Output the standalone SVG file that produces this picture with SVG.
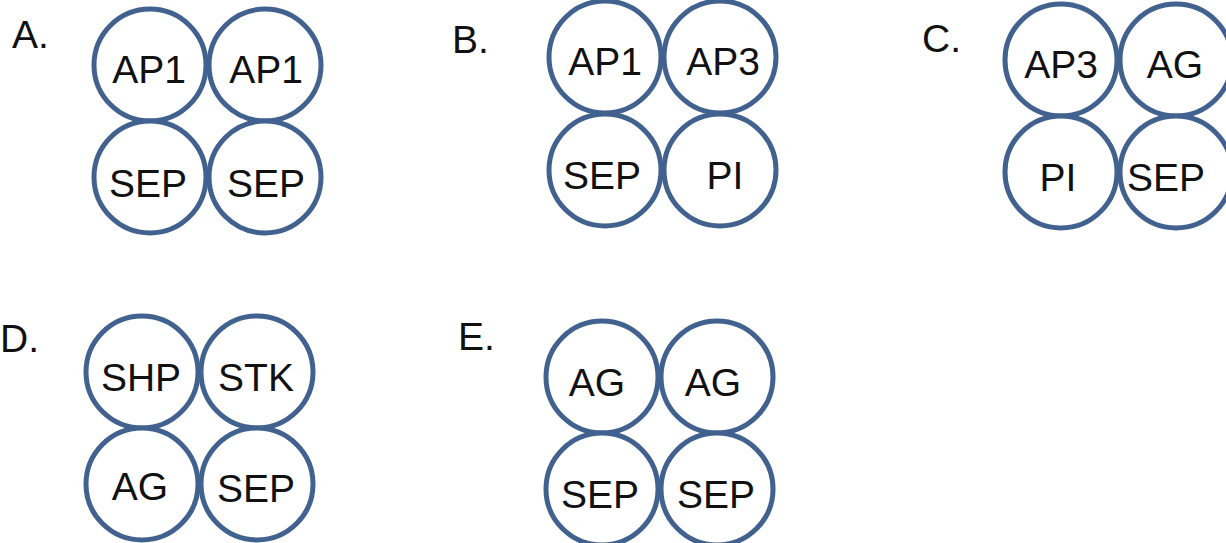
<svg xmlns="http://www.w3.org/2000/svg" width="1226" height="543" viewBox="0 0 1226 543">
<style>
.c{fill:#fff;stroke:#41618f;stroke-width:5}
.t{font-family:"Liberation Sans",Arial,sans-serif;font-size:39px;fill:#111;text-anchor:middle}
.l{font-family:"Liberation Sans",Arial,sans-serif;font-size:39px;fill:#111}
</style>
<rect width="1226" height="543" fill="#fff"/>
<g id="groupA">
<text class="l" x="12" y="48">A.</text>
<circle class="c" cx="150" cy="65" r="56"/><text class="t" x="149" y="83">AP1</text>
<circle class="c" cx="265" cy="65" r="56"/><text class="t" x="266" y="83">AP1</text>
<circle class="c" cx="150" cy="177" r="56"/><text class="t" x="148" y="197">SEP</text>
<circle class="c" cx="265" cy="177" r="56"/><text class="t" x="266" y="197">SEP</text>
</g>
<g id="groupB">
<text class="l" x="452" y="53">B.</text>
<circle class="c" cx="605" cy="57" r="56"/><text class="t" x="605" y="75">AP1</text>
<circle class="c" cx="720" cy="57" r="56"/><text class="t" x="723" y="75">AP3</text>
<circle class="c" cx="605" cy="170" r="56"/><text class="t" x="602" y="189">SEP</text>
<circle class="c" cx="720" cy="170" r="56"/><text class="t" x="725" y="189">PI</text>
</g>
<g id="groupC">
<text class="l" x="922" y="52">C.</text>
<circle class="c" cx="1061" cy="60" r="56"/><text class="t" x="1061" y="78">AP3</text>
<circle class="c" cx="1176" cy="60" r="56"/><text class="t" x="1175" y="78">AG</text>
<circle class="c" cx="1061" cy="172" r="56"/><text class="t" x="1058" y="191">PI</text>
<circle class="c" cx="1176" cy="172" r="56"/><text class="t" x="1166" y="191">SEP</text>
</g>
<g id="groupD">
<text class="l" x="0" y="352">D.</text>
<circle class="c" cx="142" cy="372" r="56"/><text class="t" x="141" y="391">SHP</text>
<circle class="c" cx="257" cy="372" r="56"/><text class="t" x="256" y="391">STK</text>
<circle class="c" cx="142" cy="484" r="56"/><text class="t" x="140" y="500">AG</text>
<circle class="c" cx="257" cy="484" r="56"/><text class="t" x="256" y="502">SEP</text>
</g>
<g id="groupE">
<text class="l" x="458" y="350">E.</text>
<circle class="c" cx="602" cy="377" r="56"/><text class="t" x="597" y="396">AG</text>
<circle class="c" cx="717" cy="377" r="56"/><text class="t" x="713" y="396">AG</text>
<circle class="c" cx="602" cy="489" r="56"/><text class="t" x="600" y="508">SEP</text>
<circle class="c" cx="717" cy="489" r="56"/><text class="t" x="716" y="508">SEP</text>
</g>
</svg>
